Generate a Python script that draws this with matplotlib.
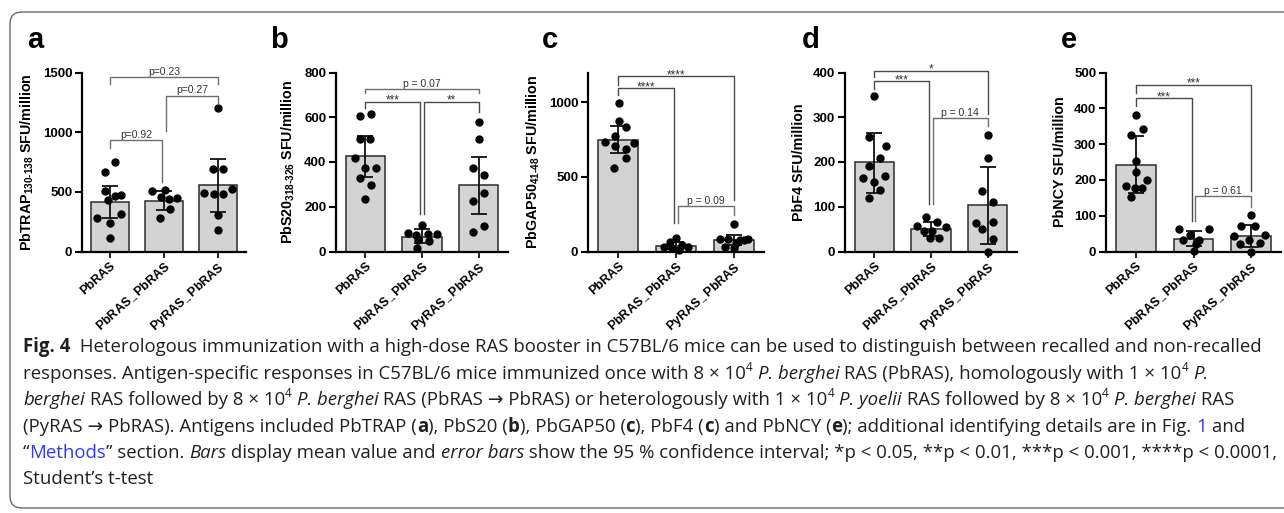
"""Fig. 4 re-draw: five bar + dot panels (ELISpot SFU/million) with the caption box."""

import matplotlib

matplotlib.use("Agg")  # headless
import matplotlib.pyplot as plt
from matplotlib.patches import FancyBboxPatch
from matplotlib.transforms import IdentityTransform

plt.rcParams["font.family"] = ["Liberation Sans", "DejaVu Sans"]
plt.rcParams["mathtext.fontset"] = "custom"
plt.rcParams["mathtext.rm"] = "Liberation Sans"
plt.rcParams["mathtext.bf"] = "Liberation Sans:bold"
plt.rcParams["mathtext.it"] = "Liberation Sans:italic"
plt.rcParams["mathtext.fallback"] = "stixsans"

W, H = 1284, 513
GROUPS = ["PbRAS", r"PbRAS$_{\mathbf{→}}$PbRAS", r"PyRAS$_{\mathbf{→}}$PbRAS"]

# --- panel a: PbTRAP 130-138 -------------------------------------------
trap_pts = [[749, 663, 507, 474, 468, 430, 318, 284, 237, 111],
            [505, 515, 455, 440, 450, 360, 280],
            [1200, 688, 688, 490, 485, 479, 521, 306, 181]]
trap_jit = [[0.10, -0.10, -0.09, 0.20, 0.09, -0.03, 0.21, -0.24, 0.0, 0.0],
            [-0.23, 0.02, -0.06, 0.09, 0.25, 0.12, -0.08],
            [0.0, -0.09, 0.09, -0.25, -0.08, 0.10, 0.26, 0.0, 0.0]]
trap_mean = [418, 421, 557]
trap_lo = [284, 345, 331]
trap_hi = [552, 505, 777]
trap_sig = [(0, 2, 1463, 1400, 1400, "p=0.23"),
            (1, 2, 1307, 1008, 1245, "p=0.27"),
            (0, 1, 933, 864, 585, "p=0.92")]

# --- panel b: PbS20 318-326 --------------------------------------------
s20_pts = [[606, 613, 505, 505, 419, 371, 374, 330, 296, 236],
           [120, 84, 76, 79, 72, 52, 45, 15],
           [577, 502, 371, 341, 262, 226, 112, 88]]
s20_jit = [[-0.09, 0.10, -0.09, 0.08, -0.18, 0.0, 0.19, -0.09, 0.10, 0.0],
           [0.0, -0.24, 0.11, 0.26, -0.10, -0.07, 0.12, -0.09],
           [0.0, 0.0, -0.09, 0.10, 0.10, -0.09, 0.10, -0.09]]
s20_mean = [425, 67, 296]
s20_lo = [333, 39, 166]
s20_hi = [516, 99, 423]
s20_sig = [(0, 2, 727, 707, 707, "p = 0.07"),
           (0, 1, 670, 640, 169, "***"),
           (1, 2, 670, 169, 625, "**")]

# --- panel c: PbGAP50 41-48 --------------------------------------------
gap_pts = [[995, 877, 832, 776, 731, 727, 705, 687, 626, 559],
           [88, 62, 45, 32, 28, 22, 10],
           [186, 85, 83, 82, 80, 78, 55, 30, 22]]
gap_jit = [[0.02, 0.02, 0.13, -0.06, -0.22, 0.28, -0.06, 0.13, 0.13, -0.07],
           [0.0, -0.10, 0.10, 0.20, -0.20, -0.07, 0.05],
           [0.0, -0.24, 0.25, -0.10, 0.10, 0.17, 0.03, -0.15, 0.0]]
gap_mean = [749, 40, 76]
gap_lo = [660, 18, 45]
gap_hi = [843, 62, 112]
gap_sig = [(0, 2, 1174, 1118, 347, "****"),
           (0, 1, 1096, 1051, 190, "****"),
           (1, 2, 302, 190, 246, "p = 0.09")]

# --- panel d: PbF4 -------------------------------------------------------
f4_pts = [[348, 256, 235, 210, 190, 164, 169, 156, 138, 119],
          [77, 66, 57, 54, 46, 45, 31, 31],
          [260, 209, 136, 110, 63, 67, 50, 29, 0]]
f4_jit = [[0.0, -0.10, 0.20, 0.10, -0.09, -0.20, 0.19, 0.0, 0.10, -0.09],
          [-0.09, 0.10, -0.24, 0.26, -0.12, 0.02, -0.02, 0.14],
          [0.0, 0.0, -0.09, 0.10, -0.20, 0.10, -0.09, 0.10, 0.0]]
f4_mean = [199, 51, 103]
f4_lo = [130, 35, 16]
f4_hi = [264, 67, 188]
f4_sig = [(0, 2, 404, 390, 307, "*"),
          (0, 1, 380, 363, 106, "***"),
          (1, 2, 298, 106, 281, "p = 0.14")]

# --- panel e: PbNCY ------------------------------------------------------
ncy_pts = [[382, 342, 326, 253, 221, 200, 184, 177, 177, 151],
           [63, 63, 47, 33, 31, 22, 2],
           [102, 72, 72, 45, 42, 31, 21, 23, 0]]
ncy_jit = [[0.0, 0.12, -0.08, 0.0, 0.0, 0.20, -0.18, 0.10, -0.02, -0.08],
           [-0.25, 0.27, -0.06, -0.18, 0.10, 0.05, 0.0],
           [0.0, -0.18, 0.06, 0.25, -0.29, -0.03, -0.19, 0.15, 0.0]]
ncy_mean = [243, 35, 43]
ncy_lo = [163, 14, 12]
ncy_hi = [322, 58, 75]
ncy_sig = [(0, 2, 466, 444, 170, "***"),
           (0, 1, 428, 407, 86, "***"),
           (1, 2, 156, 86, 124, "p = 0.61")]

PANELS = [
    dict(letter="a", label=r"PbTRAP$_{\mathbf{130‐138}}$ SFU/million", top=1500, ticks=[0, 500, 1000, 1500],
         pts=trap_pts, jit=trap_jit, mean=trap_mean, lo=trap_lo, hi=trap_hi, sig=trap_sig),
    dict(letter="b", label=r"PbS20$_{\mathbf{318‐326}}$ SFU/million", top=800, ticks=[0, 200, 400, 600, 800],
         pts=s20_pts, jit=s20_jit, mean=s20_mean, lo=s20_lo, hi=s20_hi, sig=s20_sig),
    dict(letter="c", label=r"PbGAP50$_{\mathbf{41‐48}}$ SFU/million", top=1200, ticks=[0, 500, 1000],
         pts=gap_pts, jit=gap_jit, mean=gap_mean, lo=gap_lo, hi=gap_hi, sig=gap_sig),
    dict(letter="d", label="PbF4 SFU/million", top=400, ticks=[0, 100, 200, 300, 400],
         pts=f4_pts, jit=f4_jit, mean=f4_mean, lo=f4_lo, hi=f4_hi, sig=f4_sig),
    dict(letter="e", label="PbNCY SFU/million", top=500, ticks=[0, 100, 200, 300, 400, 500],
         pts=ncy_pts, jit=ncy_jit, mean=ncy_mean, lo=ncy_lo, hi=ncy_hi, sig=ncy_sig),
]

# layout in pixels: axes left / width, panel letter x
AX_LEFT = [82, 336, 588, 845, 1106]
AX_WIDTH = [164, 172, 176, 172, 175]
LETTER_X = [27, 270, 542, 802, 1061]
AX_BOTTOM, AX_HEIGHT = 251.5, 179

CAPTION = [
    [("Fig. 4", "B"), ("  Heterologous immunization with a high-dose RAS booster in C57BL/6 mice can be used "
                       "to distinguish between recalled and non-recalled", "R")],
    [("responses. Antigen-specific responses in C57BL/6 mice immunized once with 8 × 10", "R"), ("4", "S"),
     (" ", "R"), ("P. berghei", "I"), (" RAS (PbRAS), homologously with 1 × 10", "R"), ("4", "S"),
     (" ", "R"), ("P.", "I")],
    [("berghei", "I"), (" RAS followed by 8 × 10", "R"), ("4", "S"), (" ", "R"), ("P. berghei", "I"),
     (" RAS (PbRAS → PbRAS) or heterologously with 1 × 10", "R"), ("4", "S"), (" ", "R"),
     ("P. yoelii", "I"), (" RAS followed by 8 × 10", "R"), ("4", "S"), (" ", "R"), ("P. berghei", "I"),
     (" RAS", "R")],
    [("(PyRAS → PbRAS). Antigens included PbTRAP (", "R"), ("a", "B"), ("), PbS20 (", "R"), ("b", "B"),
     ("), PbGAP50 (", "R"), ("c", "B"), ("), PbF4 (", "R"), ("c", "B"), (") and PbNCY (", "R"), ("e", "B"),
     ("); additional identifying details are in Fig. ", "R"), ("1", "L"), (" and", "R")],
    [("“", "R"), ("Methods", "L"), ("” section. ", "R"), ("Bars", "I"), (" display mean value and ", "R"),
     ("error bars", "I"), (" show the 95 % confidence interval; *p < 0.05, **p < 0.01, ***p < 0.001, "
                           "****p < 0.0001,", "R")],
    [("Student’s t-test", "R")],
]
CAP_X, CAP_RIGHT = 23, 1265
CAP_BASELINES = [352, 379, 405, 432, 458, 484]
CAP_FONT = ["Open Sans", "DejaVu Sans"]


def run_style(style, size):
    kw = dict(fontsize=size, family=CAP_FONT, color="#231f20")
    if style == "B":
        kw["fontweight"] = "bold"
    elif style == "I":
        kw["style"] = "italic"
    elif style == "L":
        kw["color"] = "#2e3cf2"
    elif style == "S":
        kw["fontsize"] = size * 0.62
    return kw


def text_advance(fig, renderer, text, kw):
    # width incl. trailing spaces: measure against a '|' sentinel
    a = fig.text(0, 0, text + "|", transform=IdentityTransform(), **kw)
    b = fig.text(0, 0, "|", transform=IdentityTransform(), **kw)
    w = a.get_window_extent(renderer).width - b.get_window_extent(renderer).width
    a.remove()
    b.remove()
    return w


def caption_line(fig, renderer, y, runs, size, draw=True):
    x = CAP_X
    for text, style in runs:
        kw = run_style(style, size)
        if draw:
            dy = size * 0.42 * 100 / 72 if style == "S" else 0
            fig.text(x, y + dy, text, transform=IdentityTransform(), va="baseline", **kw)
        x += text_advance(fig, renderer, text, kw)
    return x - CAP_X


def bracket(ax, i, j, level, end_i, end_j, label):
    xi, xj = float(i), float(j)
    if (i, j) == (0, 1):
        xj -= 0.03
    elif (i, j) == (1, 2):
        xi += 0.03
    stars = label.startswith("*")
    ax.plot([xi, xi, xj, xj], [end_i, level, level, end_j], color="#4a4a4a" if stars else "#6e6e6e",
            lw=1.0, clip_on=False, zorder=4)
    ax.annotate(label, ((xi + xj) / 2, level), xytext=(0, -1.5 if stars else 1.5),
                textcoords="offset points", ha="center", va="baseline",
                fontsize=8.5 if stars else 7.5, color="#333333", annotation_clip=False)


def main():
    fig = plt.figure(figsize=(W / 100, H / 100), dpi=100)

    for k, p in enumerate(PANELS):
        ax = fig.add_axes([AX_LEFT[k] / W, (H - AX_BOTTOM) / H, AX_WIDTH[k] / W, AX_HEIGHT / H])
        xs = range(len(GROUPS))
        ax.bar(xs, p["mean"], width=0.69, color="#d3d3d3", edgecolor="#2b2b2b", linewidth=1.1, zorder=1)
        yerr = [[m - lo for m, lo in zip(p["mean"], p["lo"])], [hi - m for m, hi in zip(p["mean"], p["hi"])]]
        ax.errorbar(xs, p["mean"], yerr=yerr, fmt="none", ecolor="#111111", elinewidth=1.3,
                    capsize=6, capthick=1.3, zorder=2)
        for g in xs:
            ax.plot([g + d for d in p["jit"][g]], p["pts"][g], "o", color="black", ms=5.0,
                    clip_on=False, zorder=3)
        for s in p["sig"]:
            bracket(ax, *s)

        ax.set_xlim(-0.52, 2.52)
        ax.set_ylim(0, p["top"])
        ax.set_yticks(p["ticks"], labels=[str(t) for t in p["ticks"]], fontweight="bold", fontsize=9.5)
        ax.set_xticks(list(xs), labels=GROUPS, rotation=42, ha="right", rotation_mode="anchor",
                      fontweight="bold", fontsize=9)
        ax.tick_params(axis="y", length=5, width=1.5, pad=2)
        ax.tick_params(axis="x", length=4, width=1.2, pad=2)
        ax.set_ylabel(p["label"], fontsize=10.3, fontweight="bold", labelpad=5)
        for side in ("top", "right"):
            ax.spines[side].set_visible(False)
        for side in ("left", "bottom"):
            ax.spines[side].set_linewidth(1.6)

        fig.text(LETTER_X[k] / W, 1 - 48 / H, p["letter"], fontsize=21, fontweight="bold", va="baseline")

    # rounded frame around figure + caption
    frame = FancyBboxPatch((10, 5), 1300, 496, boxstyle="round,pad=0,rounding_size=12",
                           transform=IdentityTransform(), fill=False, edgecolor="#5a5a5a", lw=0.9)
    fig.add_artist(frame)

    renderer = fig.canvas.get_renderer()
    w10 = caption_line(fig, renderer, 0, CAPTION[0], 10, draw=False)
    size = 10 * (CAP_RIGHT - CAP_X) / w10
    for runs, base in zip(CAPTION, CAP_BASELINES):
        caption_line(fig, renderer, H - base, runs, size)

    fig.savefig("out.png", dpi=100)
    plt.close(fig)


if __name__ == "__main__":
    main()
